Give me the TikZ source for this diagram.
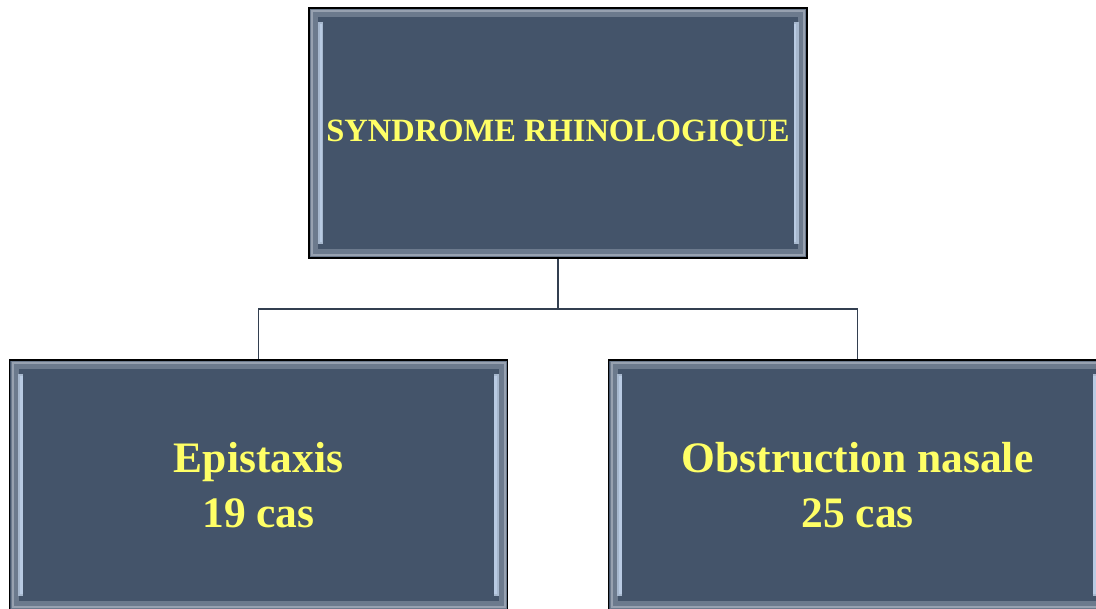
\documentclass[tikz,border=0pt]{standalone}
\usepackage{fontspec}
\setmainfont{Liberation Serif}
\usetikzlibrary{calc}
\definecolor{boxfill}{HTML}{44546A}
\definecolor{bevelgray}{HTML}{7D8A9C}
\definecolor{bevellight}{HTML}{B9CBE3}
\definecolor{txtyellow}{HTML}{FFFF66}
\definecolor{linkcol}{HTML}{333F50}
\tikzset{
  bevelbox/.style={draw=black, line width=1.6pt, fill=boxfill,
    minimum width=498pt, minimum height=250pt, inner sep=0pt,
    text=txtyellow, align=center,
    path picture={
      \draw[bevelgray!70!boxfill, line width=8pt]
        ([shift={(5pt,-5pt)}]path picture bounding box.north west) rectangle
        ([shift={(-5pt,5pt)}]path picture bounding box.south east);
      \draw[bevelgray!80!white, line width=2pt]
        ([shift={(3pt,-3pt)}]path picture bounding box.north west) rectangle
        ([shift={(-3pt,3pt)}]path picture bounding box.south east);
      \draw[bevellight!70!bevelgray, line width=5pt]
        ([shift={(11pt,-14pt)}]path picture bounding box.north west) --
        ([shift={(11pt,14pt)}]path picture bounding box.south west);
      \draw[bevellight, line width=2.5pt]
        ([shift={(12pt,-16pt)}]path picture bounding box.north west) --
        ([shift={(12pt,16pt)}]path picture bounding box.south west);
      \draw[bevellight!70!bevelgray, line width=5pt]
        ([shift={(-11pt,-14pt)}]path picture bounding box.north east) --
        ([shift={(-11pt,14pt)}]path picture bounding box.south east);
      \draw[bevellight, line width=2.5pt]
        ([shift={(-12pt,-16pt)}]path picture bounding box.north east) --
        ([shift={(-12pt,16pt)}]path picture bounding box.south east);
    }},
  toptext/.style={font=\bfseries\fontsize{32.5}{38}\selectfont},
  bottext/.style={font=\bfseries\fontsize{43.5}{55}\selectfont},
  link/.style={draw=linkcol, line width=1.6pt}
}
\begin{document}
\begin{tikzpicture}[x=1pt,y=-1pt]
\useasboundingbox (0,0) rectangle (1096,609);
\clip (0,0) rectangle (1096,609);
\fill[white] (0,0) rectangle (1096,609);
\node[bevelbox, toptext] (top) at (558,133) {SYNDROME RHINOLOGIQUE};
\node[bevelbox, bottext] (left) at (258.5,485) {Epistaxis\\19 cas};
\node[bevelbox, bottext] (right) at (857.5,485) {Obstruction nasale\\25 cas};
\coordinate (j) at (558,309);
\draw[link] (top.south) -- (j);
\draw[link] (left.north) |- (j) -| (right.north);
\end{tikzpicture}
\end{document}
